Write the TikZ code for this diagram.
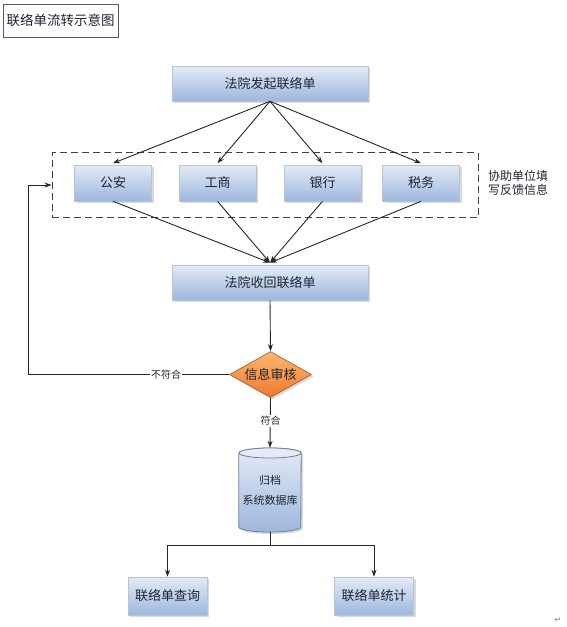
\documentclass[tikz,border=0pt]{standalone}
\usepackage{fontspec}
\setmainfont{Noto Sans CJK SC}
\newfontfamily\symfont{DejaVu Sans}
\usetikzlibrary{arrows.meta,shapes.geometric,shadows}
\definecolor{boxtop}{HTML}{E4EBF6}
\definecolor{boxbot}{HTML}{9DB7DD}
\definecolor{boxline}{HTML}{B8C4D6}
\definecolor{cylline}{HTML}{6F7F99}
\definecolor{txt}{HTML}{1E2433}
\definecolor{ortop}{HTML}{FDB56E}
\definecolor{orbot}{HTML}{EE7A2E}
\definecolor{orline}{HTML}{9A5A22}
\tikzset{
  bluebox/.style={draw=boxline, line width=0.6pt, top color=boxtop, bottom color=boxbot,
    drop shadow={shadow xshift=2pt, shadow yshift=-2pt, opacity=0.25, fill=black!60},
    text=txt, font=\fontsize{13}{15}\selectfont, inner sep=0pt},
  bigbox/.style={bluebox, minimum width=196pt, minimum height=35pt},
  smallbox/.style={bluebox, minimum width=77pt, minimum height=36pt},
  endbox/.style={bluebox, minimum width=79pt, minimum height=38pt},
  arr/.style={draw=black!85, line width=0.9pt, -{Stealth[length=7pt,width=5pt]}},
  ln/.style={draw=black!85, line width=0.9pt},
  lbl/.style={fill=white, inner sep=1pt, text=txt, font=\fontsize{10}{12}\selectfont}
}
\begin{document}
\begin{tikzpicture}[x=1pt,y=-1pt]
\useasboundingbox (0,0) rectangle (567,627);
% title
\node[draw=black!65, line width=0.8pt, minimum width=115pt, minimum height=33pt, inner sep=0pt,
  font=\fontsize{13.5}{15}\selectfont, text=txt] (title) at (60.5,20.5) {联络单流转示意图};
% dashed group
\node[draw=black!75, dashed, dash pattern=on 7pt off 4pt, line width=0.9pt,
  minimum width=426pt, minimum height=65pt, inner sep=0pt] (grp) at (265,185) {};
\node[align=left, font=\fontsize{12}{14}\selectfont, text=txt, inner sep=0pt] (note) at (518,183) {协助单位填\\写反馈信息};
% boxes
\node[bigbox] (start) at (270,83.5) {法院发起联络单};
\node[smallbox] (ga) at (113,183) {公安};
\node[smallbox] (gs) at (217.5,183) {工商};
\node[smallbox] (yh) at (322.5,183) {银行};
\node[smallbox] (sw) at (421,183) {税务};
\node[bigbox] (recv) at (270,282.5) {法院收回联络单};
\node[diamond, aspect=1.8, minimum width=82pt, minimum height=46pt, inner sep=0pt,
  draw=orline, line width=0.6pt, top color=ortop, bottom color=orbot,
  drop shadow={shadow xshift=2pt, shadow yshift=-2pt, opacity=0.25, fill=black!60},
  font=\fontsize{13}{15}\selectfont, text=txt] (chk) at (270.5,374.5) {信息审核};
% cylinder database
\node[minimum width=62pt, minimum height=84pt, inner sep=0pt] (db) at (270,490) {};
\fill[black!60, opacity=0.25] ([shift={(2pt,-2pt)}]db.west |- 0,453) -- ([shift={(2pt,-2pt)}]db.west |- 0,527)
  arc (180:360:31pt and 5pt) -- ([shift={(2pt,-2pt)}]db.east |- 0,453) arc (0:180:31pt and 5pt) -- cycle;
\draw[draw=cylline, line width=0.8pt, top color=boxtop, bottom color=boxbot]
  (db.west |- 0,453) -- (db.west |- 0,527) arc (180:360:31pt and 5pt)
  -- (db.east |- 0,453) arc (0:180:31pt and 5pt) -- cycle;
\draw[draw=cylline, line width=0.8pt, fill=boxtop] (db.center |- 0,453) ellipse (31pt and 5pt);
\node[font=\fontsize{11}{20}\selectfont, text=txt, align=center, inner sep=0pt] (dbtxt) at (270,490) {归档\\系统数据库};
% result boxes
\node[endbox] (qry) at (167.5,596) {联络单查询};
\node[endbox] (stat) at (374,596) {联络单统计};
% connectors
\foreach \t in {ga,gs,yh,sw} {
  \draw[arr] (start.south) -- ([yshift=1.5pt]\t.north);
  \draw[arr] (\t.south) -- ([yshift=2pt]recv.north);
}
\draw[arr] (recv.south) -- (chk.north);
\draw[arr] (chk.west) -- (28,374.5) -- (28,185) -- (grp.west);
\node[lbl] (no) at (166,374.5) {不符合};
\draw[arr] (chk.south) -- (db.north);
\node[lbl] (yes) at (270.5,421) {符合};
\coordinate (split) at (270,545);
\draw[ln] (db.south) -- (split);
\draw[arr] (split) -| (qry.north);
\draw[arr] (split) -| (stat.north);
\node[text=black!50, font=\symfont\fontsize{8}{9}\selectfont, inner sep=0pt] (para) at (558,620) {↵};
\end{tikzpicture}
\end{document}
